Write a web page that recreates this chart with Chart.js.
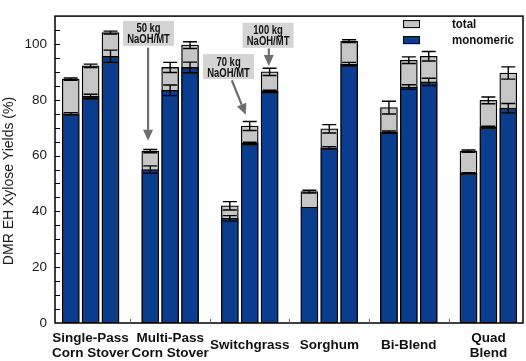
<!DOCTYPE html>
<html><head><meta charset="utf-8">
<script src="https://cdn.jsdelivr.net/npm/chart.js@4/dist/chart.umd.min.js"></script>
<style>html,body{margin:0;padding:0;background:#fff;}#wrap{width:526px;height:361px;}</style>
</head><body><div id="wrap"><canvas id="c" width="526" height="361"></canvas></div>
<script>
// ---- data ----
const categories = [['Single-Pass','Corn Stover'], ['Multi-Pass','Corn Stover'], 'Switchgrass', 'Sorghum', 'Bi-Blend', ['Quad','Blend']];
const loadings = ['50 kg', '70 kg', '100 kg'];
const seriesNames = ['total', 'monomeric'];
const mono50  = [75.0, 55.0, 37.5, 41.5, 68.4, 53.7];
const mono70  = [81.2, 83.4, 64.4, 62.8, 84.6, 70.2];
const mono100 = [95.6, 91.6, 83.0, 92.8, 86.4, 77.0];
const monoErr50  = [0.4, 1.3, 1.0, 0.0, 0.4, 0.2];
const monoErr70  = [0.8, 1.9, 0.4, 0.4, 0.8, 0.3];
const monoErr100 = [2.2, 1.9, 0.4, 0.6, 1.3, 1.7];
const total50  = [87.4, 61.6, 42.0, 47.1, 77.2, 61.6];
const total70  = [92.2, 91.6, 70.6, 69.6, 94.2, 79.8];
const total100 = [104.1, 99.6, 90.0, 101.0, 95.6, 89.6];
const totalErr50  = [0.4, 0.6, 1.5, 0.5, 2.3, 0.4];
const totalErr70  = [0.6, 1.8, 1.6, 1.5, 1.2, 1.2];
const totalErr100 = [0.5, 1.2, 1.3, 0.5, 1.7, 2.2];
const yTicks = [0, 20, 40, 60, 80, 100];

// ---- layout / style ----
const BLUE = '#0b3d8f', GREY = '#c6c6c6';
const FONT = '"Liberation Sans", Arial, Helvetica, sans-serif';
const slotOffset = [-0.25, 0, 0.25];
Chart.defaults.font.family = FONT;

const monoSets = [mono50, mono70, mono100], monoErrSets = [monoErr50, monoErr70, monoErr100];
const totalSets = [total50, total70, total100], totalErrSets = [totalErr50, totalErr70, totalErr100];
const monoPts = [], totalPts = [], monoErrs = [], totalErrs = [];
categories.forEach((c, g) => {
  for (let k = 0; k < 3; k++) {
    const xv = g + 1 + slotOffset[k];
    monoPts.push({x: xv, y: monoSets[k][g]});
    totalPts.push({x: xv, y: totalSets[k][g]});
    monoErrs.push(monoErrSets[k][g]);
    totalErrs.push(totalErrSets[k][g]);
  }
});

// annotation anchors in data units (box centre x, box top y, arrow from, arrow to)
const annotations = [
  {lines: [loadings[0], 'NaOH/MT'], box: [1.728, 108.3], from: [1.722, 98.7], to: [1.722, 65.3]},
  {lines: [loadings[1], 'NaOH/MT'], box: [2.734, 96.4], from: [2.775, 87.0], to: [2.95, 74.6]},
  {lines: [loadings[2], 'NaOH/MT'], box: [3.231, 107.6], from: [3.24, 98.4], to: [3.24, 92.1]}
];

const decor = {
  id: 'decor',
  afterDatasetsDraw(chart) {
    const {ctx, scales: {y}} = chart;
    ctx.save();
    ctx.strokeStyle = '#000'; ctx.lineWidth = 1.4;
    chart.data.datasets.forEach((ds, di) => {
      const meta = chart.getDatasetMeta(di);
      meta.data.forEach((bar, i) => {
        const e = ds.errors[i]; if (!e) return;
        const v = ds.data[i].y;
        const px = bar.x, y1 = y.getPixelForValue(v + e), y2 = y.getPixelForValue(v - e);
        const hw = 7;
        ctx.beginPath();
        ctx.moveTo(px, y1); ctx.lineTo(px, y2);
        ctx.moveTo(px - hw, y1); ctx.lineTo(px + hw, y1);
        ctx.moveTo(px - hw, y2); ctx.lineTo(px + hw, y2);
        ctx.stroke();
      });
    });
    ctx.restore();
  },
  afterDraw(chart) {
    const {ctx, chartArea: a, scales: {x, y}} = chart;
    ctx.save();
    // frame
    ctx.strokeStyle = '#000'; ctx.lineWidth = 1.5;
    ctx.strokeRect(a.left, a.top, a.right - a.left, a.bottom - a.top);
    // y ticks (inward), every 5
    ctx.lineWidth = 1;
    ctx.beginPath();
    for (let v = 5; v < 110; v += 5) {
      const py = Math.round(y.getPixelForValue(v)) + 0.5;
      ctx.moveTo(a.left, py); ctx.lineTo(a.left + 5, py);
    }
    ctx.stroke();
    // x group separators
    ctx.strokeStyle = '#666';
    ctx.beginPath();
    for (let g = 1; g < categories.length; g++) {
      const px = Math.round(x.getPixelForValue(g + 0.5)) + 0.5;
      ctx.moveTo(px, a.bottom); ctx.lineTo(px, a.bottom - 4);
    }
    ctx.stroke();
    // legend
    const items = [{label: seriesNames[0], color: GREY}, {label: seriesNames[1], color: BLUE}];
    const lx = a.right - 120, ly = a.top + 4;
    ctx.font = 'bold 12.5px ' + FONT;
    ctx.textBaseline = 'middle'; ctx.textAlign = 'left';
    items.forEach((it, i) => {
      const by = ly + i * 16;
      ctx.fillStyle = it.color; ctx.fillRect(lx, by, 17, 8);
      ctx.strokeStyle = '#000'; ctx.lineWidth = 1; ctx.strokeRect(lx + 0.5, by + 0.5, 16, 7);
      ctx.save();
      ctx.translate(lx + 49, by + 4.5);
      ctx.scale(0.92, 1);
      ctx.fillStyle = '#111'; ctx.fillText(it.label, 0, 0);
      ctx.restore();
    });
    // annotations
    annotations.forEach(an => {
      const bx = x.getPixelForValue(an.box[0]), bt = y.getPixelForValue(an.box[1]);
      const w = 51, h = 25;
      ctx.fillStyle = '#d4d4d4';
      ctx.fillRect(bx - w / 2, bt, w, h);
      ctx.fillStyle = '#111';
      ctx.font = 'bold 12px ' + FONT;
      ctx.textAlign = 'center'; ctx.textBaseline = 'alphabetic';
      an.lines.forEach((t, i) => {
        ctx.save();
        ctx.translate(bx, bt + 11.5 + i * 11);
        ctx.scale(0.79, 1);
        ctx.fillText(t, 0, 0);
        ctx.restore();
      });
      // arrow
      const fx = x.getPixelForValue(an.from[0]), fy = y.getPixelForValue(an.from[1]);
      const tx = x.getPixelForValue(an.to[0]), ty = y.getPixelForValue(an.to[1]);
      const ang = Math.atan2(ty - fy, tx - fx), L = 11, W = 5;
      const bxp = tx - L * Math.cos(ang), byp = ty - L * Math.sin(ang);
      ctx.strokeStyle = '#6e6e6e'; ctx.fillStyle = '#6e6e6e'; ctx.lineWidth = 2.2;
      ctx.beginPath(); ctx.moveTo(fx, fy); ctx.lineTo(bxp, byp); ctx.stroke();
      ctx.beginPath();
      ctx.moveTo(tx, ty);
      ctx.lineTo(bxp + W * Math.sin(ang), byp - W * Math.cos(ang));
      ctx.lineTo(bxp - W * Math.sin(ang), byp + W * Math.cos(ang));
      ctx.closePath(); ctx.fill();
    });
    // y title
    ctx.fillStyle = '#1a1a1a';
    ctx.font = '14px ' + FONT;
    ctx.textAlign = 'center'; ctx.textBaseline = 'middle';
    ctx.translate(9, 181);
    ctx.rotate(-Math.PI / 2);
    ctx.fillText('DMR EH Xylose Yields (%)', 0, 0);
    ctx.restore();
  }
};

new Chart(document.getElementById('c'), {
  type: 'bar',
  data: {
    datasets: [
      {label: seriesNames[1], data: monoPts, errors: monoErrs, backgroundColor: BLUE, borderColor: '#000',
       borderWidth: 1.3, borderSkipped: false, grouped: false, barThickness: 17},
      {label: seriesNames[0], data: totalPts, errors: totalErrs, backgroundColor: GREY, borderColor: '#000',
       borderWidth: 1.3, borderSkipped: false, grouped: false, barThickness: 17}
    ]
  },
  options: {
    responsive: false, animation: false, devicePixelRatio: 1,
    layout: {padding: {left: 0, right: 3, top: 3, bottom: 0}},
    plugins: {legend: {display: false}, tooltip: {enabled: false}, title: {display: false}},
    scales: {
      x: {
        type: 'linear', min: 0.5525, max: 6.435, bounds: 'data', offset: false,
        grid: {display: false, drawTicks: false, offset: false}, border: {display: false},
        afterBuildTicks: s => { s.ticks = categories.map((c, i) => ({value: i + 1})); },
        ticks: {autoSkip: false, maxRotation: 0, minRotation: 0, crossAlign: 'center', padding: 15,
                color: '#111', font: {size: 13.5, weight: 'bold', lineHeight: 1.13},
                callback: (v, i) => categories[i]},
        afterFit: s => { s.height = 38; }
      },
      y: {
        min: 0, max: 110, bounds: 'data',
        grid: {display: false, drawTicks: false}, border: {display: false},
        afterBuildTicks: s => { s.ticks = yTicks.map(v => ({value: v})); },
        ticks: {padding: 8, color: '#1a1a1a', font: {size: 13.5}},
        afterFit: s => { s.width = 55; }
      }
    }
  },
  plugins: [decor]
});
</script>
</body></html>
